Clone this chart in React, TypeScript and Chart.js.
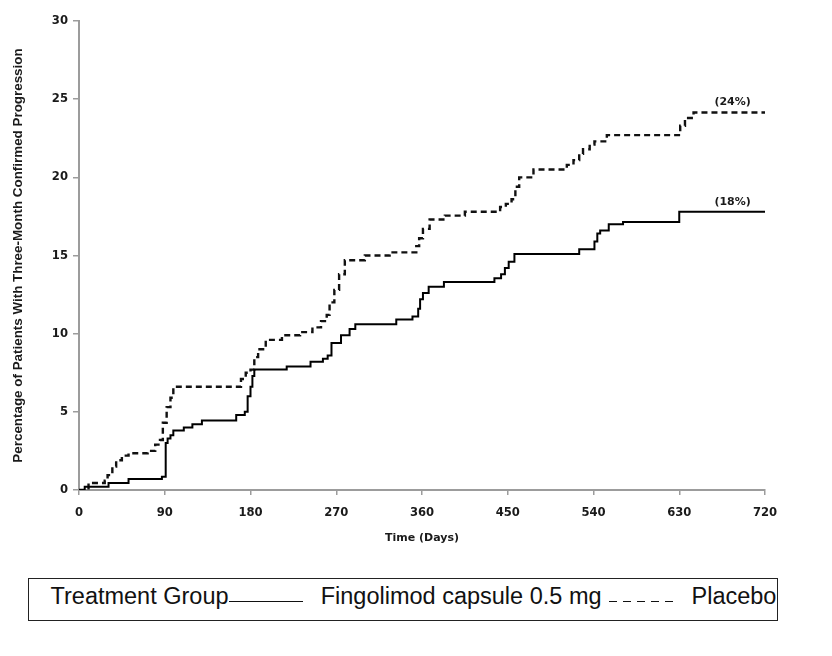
import { useEffect, useRef } from 'react';
import { Chart, registerables } from 'chart.js';

Chart.register(...registerables);

// ---- data ----
const fingolimodDays = [0, 6, 31, 52, 87, 91, 93, 96, 99, 110, 119, 129, 165, 174, 177, 180, 182, 184, 218, 243, 256, 261, 265, 275, 284, 290, 333, 350, 356, 358, 361, 367, 383, 436, 443, 447, 451, 457, 525, 541, 544, 547, 556, 571, 630, 720];
const fingolimodPct = [0, 0.2, 0.45, 0.7, 0.85, 3.0, 3.3, 3.5, 3.8, 4.0, 4.2, 4.45, 4.8, 5.0, 6.0, 6.6, 7.3, 7.7, 7.9, 8.2, 8.4, 8.6, 9.4, 9.9, 10.3, 10.6, 10.9, 11.1, 11.6, 12.2, 12.6, 13.0, 13.3, 13.55, 13.8, 14.2, 14.6, 15.1, 15.4, 15.9, 16.4, 16.6, 17.0, 17.15, 17.8, 17.8];

const placeboDays = [0, 10, 27, 30, 35, 39, 45, 52, 72, 80, 85, 88, 92, 96, 99, 170, 175, 180, 184, 188, 196, 213, 232, 245, 254, 260, 263, 268, 273, 279, 300, 326, 354, 357, 361, 368, 384, 405, 442, 448, 454, 458, 462, 477, 512, 519, 525, 529, 536, 541, 554, 631, 636, 645, 720];
const placeboPct = [0, 0.45, 0.6, 0.95, 1.5, 1.9, 2.2, 2.35, 2.5, 2.9, 3.2, 4.3, 5.3, 5.9, 6.6, 7.1, 7.5, 7.7, 8.5, 9.0, 9.6, 9.9, 10.1, 10.4, 10.8, 11.2, 12.0, 12.8, 13.8, 14.7, 15.0, 15.2, 15.6, 16.1, 16.7, 17.3, 17.55, 17.8, 18.1, 18.3, 18.6, 19.4, 20.0, 20.5, 20.8, 21.1, 21.5, 21.8, 22.1, 22.3, 22.7, 23.3, 23.8, 24.15, 24.15];

const xTicks = [0, 90, 180, 270, 360, 450, 540, 630, 720];
const yTicks = [0, 5, 10, 15, 20, 25, 30];

const annotationLabels = ['(24%)', '(18%)'];
const annotationDays = [686, 686];
const annotationPct = [24.8, 18.4];

const seriesNames = ['Fingolimod capsule 0.5 mg', 'Placebo'];
const legendTitle = 'Treatment Group';
const xTitle = 'Time (Days)';
const yTitle = 'Percentage of Patients With Three-Month Confirmed Progression';

// ---- styles ----
const AXIS_GRAY = '#9c9c9c';
const TEXT_DARK = '#1a1a1a';
const tickFont = { family: '"DejaVu Sans", sans-serif', size: 11.6, weight: 'bold' as const };
const titleFont = { family: '"DejaVu Sans", sans-serif', size: 11, weight: 'bold' as const };

const endLabelPlugin = {
  id: 'endLabels',
  afterDatasetsDraw(chart: any) {
    const { ctx, scales } = chart;
    const xs = scales.x;
    const ys = scales.y;
    ctx.save();
    ctx.font = 'bold 11px "DejaVu Sans", sans-serif';
    ctx.fillStyle = TEXT_DARK;
    ctx.textAlign = 'center';
    ctx.textBaseline = 'middle';
    annotationLabels.forEach((t, i) => {
      ctx.fillText(t, xs.getPixelForValue(annotationDays[i]), ys.getPixelForValue(annotationPct[i]));
    });
    ctx.restore();
  },
};

function ChartCanvas() {
  const ref = useRef<HTMLCanvasElement | null>(null);
  useEffect(() => {
    if (!ref.current) return;
    const chart = new Chart(ref.current, {
      type: 'line',
      data: {
        datasets: [
          {
            label: seriesNames[0],
            data: fingolimodDays.map((d, i) => ({ x: d, y: fingolimodPct[i] })),
            borderColor: '#000000',
            borderWidth: 2,
            pointRadius: 0,
            stepped: 'before',
            fill: false,
          },
          {
            label: seriesNames[1],
            data: placeboDays.map((d, i) => ({ x: d, y: placeboPct[i] })),
            borderColor: '#111111',
            borderWidth: 2.4,
            borderDash: [6, 4],
            pointRadius: 0,
            stepped: 'before',
            fill: false,
          },
        ],
      },
      options: {
        animation: false,
        responsive: false,
        maintainAspectRatio: false,
        layout: { padding: { left: 0, right: 67, top: 21, bottom: 0 } },
        plugins: { legend: { display: false }, tooltip: { enabled: false } },
        scales: {
          x: {
            type: 'linear',
            min: 0,
            max: 720,
            afterBuildTicks: (s: any) => {
              s.ticks = xTicks.map((v) => ({ value: v }));
            },
            afterFit: (s: any) => {
              s.height = 80;
            },
            grid: { display: true, drawOnChartArea: false, drawTicks: true, tickLength: 5, color: AXIS_GRAY, lineWidth: 1.5 },
            border: { display: true, color: AXIS_GRAY, width: 2 },
            ticks: { font: tickFont, color: TEXT_DARK, padding: 11, maxRotation: 0, autoSkip: false },
            title: { display: true, text: xTitle, font: titleFont, color: TEXT_DARK, padding: { top: 0, bottom: 25 } },
          },
          y: {
            type: 'linear',
            min: 0,
            max: 30,
            afterBuildTicks: (s: any) => {
              s.ticks = yTicks.map((v) => ({ value: v }));
            },
            afterFit: (s: any) => {
              s.width = 79;
            },
            grid: { display: true, drawOnChartArea: false, drawTicks: true, tickLength: 6, color: AXIS_GRAY, lineWidth: 1.5 },
            border: { display: true, color: AXIS_GRAY, width: 2 },
            ticks: { font: tickFont, color: TEXT_DARK, padding: 5, autoSkip: false },
            title: {
              display: true,
              text: yTitle,
              font: { family: '"Liberation Sans", Arial, sans-serif', size: 13.4, weight: 'bold' },
              color: TEXT_DARK,
              padding: { top: 10.5, bottom: 0 },
            },
          },
        },
      },
      plugins: [endLabelPlugin],
    } as any);
    return () => chart.destroy();
  }, []);
  return (
    <canvas
      ref={ref}
      width={832}
      height={570}
      style={{ position: 'absolute', left: 0, top: 0, width: 832, height: 570 }}
    />
  );
}

const legendText: React.CSSProperties = {
  position: 'absolute',
  top: 585,
  fontFamily: '"Liberation Sans", Arial, sans-serif',
  fontSize: 23.5,
  lineHeight: 1,
  color: '#111',
  whiteSpace: 'nowrap',
};

export default function App() {
  return (
    <div style={{ position: 'fixed', left: 0, top: 0, width: 832, height: 656, background: '#fff', overflow: 'hidden' }}>
      <ChartCanvas />
      <div
        style={{
          position: 'absolute',
          left: 28,
          top: 578,
          width: 750,
          height: 43,
          boxSizing: 'border-box',
          border: '1px solid #222',
        }}
      />
      <span style={{ ...legendText, left: 50.5 }}>{legendTitle}</span>
      <div style={{ position: 'absolute', left: 229, top: 601, width: 74, height: 1, background: '#111' }} />
      <span style={{ ...legendText, left: 320.7 }}>{seriesNames[0]}</span>
      <div
        style={{
          position: 'absolute',
          left: 609,
          top: 601,
          width: 64,
          height: 1,
          background: 'repeating-linear-gradient(to right, #111 0px, #111 8px, transparent 8px, transparent 14px)',
        }}
      />
      <span style={{ ...legendText, left: 691.5 }}>{seriesNames[1]}</span>
    </div>
  );
}
